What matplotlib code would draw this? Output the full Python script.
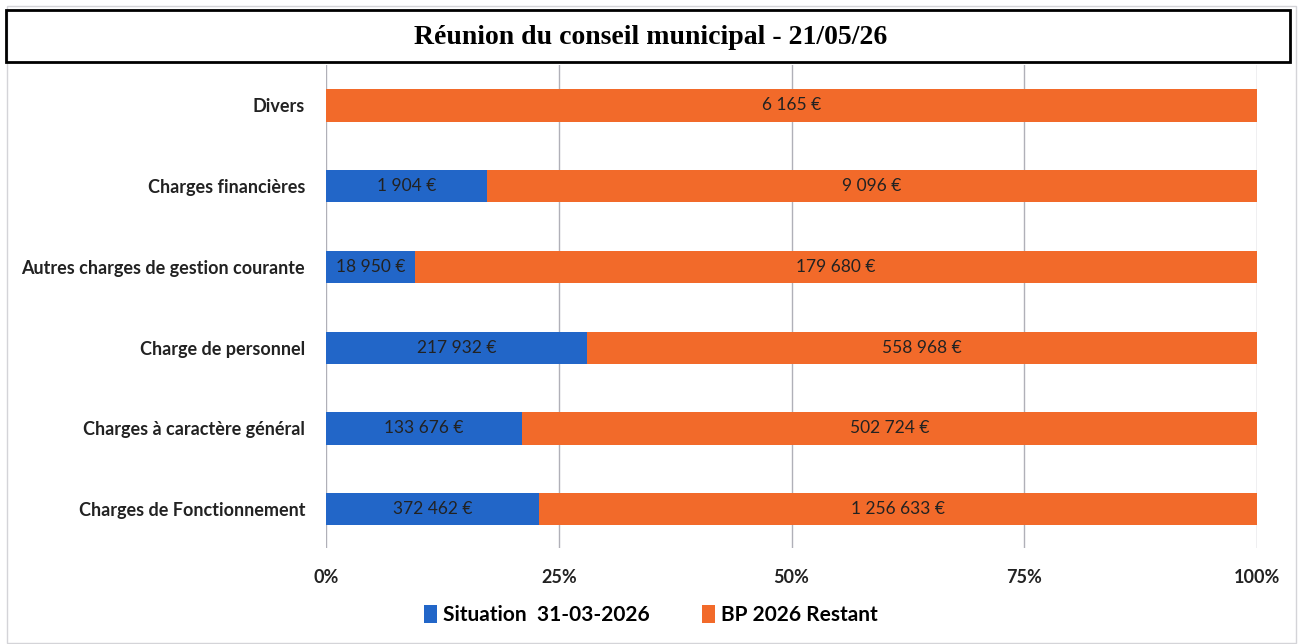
import matplotlib.pyplot as plt
from matplotlib.patches import Rectangle
from matplotlib.ticker import PercentFormatter

categories = ["Charges de Fonctionnement", "Charges à caractère général", "Charge de personnel",
              "Autres charges de gestion courante", "Charges financières", "Divers"]
situation = [372462, 133676, 217932, 18950, 1904, 0]
restant = [1256633, 502724, 558968, 179680, 9096, 6165]
series_names = ["Situation  31-03-2026", "BP 2026 Restant"]
xticks = [0, 25, 50, 75, 100]

blue = "#2266c8"
orange = "#f26a2a"
font = "Lato"


def euro(v):
    return "{:,}".format(v).replace(",", " ") + " €"


W, H = 1302, 644
fig = plt.figure(figsize=(W / 100, H / 100), dpi=100)
ax = fig.add_axes([326 / W, 1 - 548 / H, 931 / W, 483 / H])

totals = [a + b for a, b in zip(situation, restant)]
p1 = [100 * a / t for a, t in zip(situation, totals)]
p2 = [100 * b / t for b, t in zip(restant, totals)]
y = range(len(categories))

b1 = ax.barh(y, p1, height=0.4, color=blue, label=series_names[0], zorder=3)
b2 = ax.barh(y, p2, left=p1, height=0.4, color=orange, label=series_names[1], zorder=3)

for bars, vals in ((b1, situation), (b2, restant)):
    for rect, v in zip(bars, vals):
        if v > 0:
            ax.text(rect.get_x() + rect.get_width() / 2, rect.get_y() + rect.get_height() / 2,
                    euro(v), ha="center", va="center", fontsize=12.5, family=font,
                    color="#222222", zorder=4)

ax.set_xlim(0, 100)
ax.set_ylim(-0.48, 5.5)
ax.set_xticks(xticks)
ax.xaxis.set_major_formatter(PercentFormatter(decimals=0))
ax.set_yticks(list(y))
ax.set_yticklabels(categories)
for lbl in ax.get_xticklabels() + ax.get_yticklabels():
    lbl.set_family(font)
    lbl.set_fontweight("bold")
    lbl.set_fontsize(13)
    lbl.set_color("#222222")
ax.tick_params(axis="both", length=0)
ax.tick_params(axis="x", pad=15)
ax.tick_params(axis="y", pad=15)
ax.grid(axis="x", color="#b0b0b8", linewidth=1, zorder=0)
for s in ax.spines.values():
    s.set_visible(False)

# faint chart-area border and title box
fig.patches.append(Rectangle((7 / W, 1 / H), 1289 / W, 637 / H, transform=fig.transFigure,
                             fill=False, edgecolor="#d4d4d8", linewidth=1))
fig.patches.append(Rectangle((6 / W, 1 - 62 / H), 1284 / W, 52 / H, transform=fig.transFigure,
                             fill=False, edgecolor="black", linewidth=2))
fig.text(0.5, 1 - 37 / H, "Réunion du conseil municipal - 21/05/26", ha="center", va="center",
         family="Liberation Serif", fontweight="bold", fontsize=20)

fig.legend(loc="center", bbox_to_anchor=(0.5, 1 - 615 / H), ncol=2, frameon=False,
           prop={"family": font, "weight": "bold", "size": 15}, handlelength=0.6,
           handleheight=1.0, handletextpad=0.3, columnspacing=2.5)

plt.savefig("out.png", dpi=100)
